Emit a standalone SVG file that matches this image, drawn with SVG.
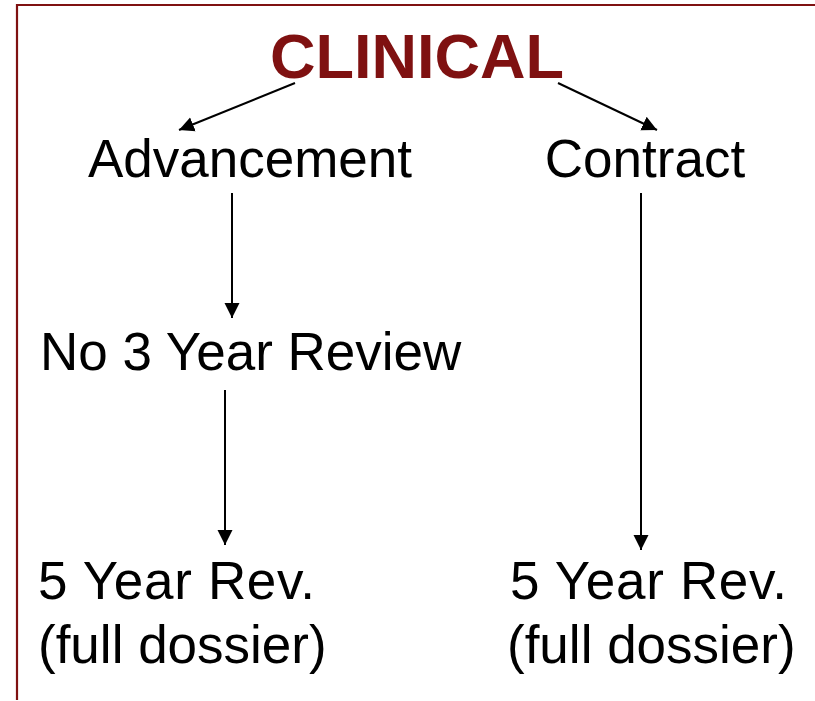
<svg xmlns="http://www.w3.org/2000/svg" width="815" height="701" viewBox="0 0 815 701">
<style>
.t{font-family:"Liberation Sans",Arial,sans-serif;font-size:53px;fill:#000}
.h{font-family:"Liberation Sans",Arial,sans-serif;font-size:63px;font-weight:bold;fill:#7f1111}
.c{stroke:#000;stroke-width:2;fill:none;marker-end:url(#ah)}
.b{stroke:#7f1111;stroke-width:2.2;fill:none}
</style>
<defs>
<marker id="ah" markerUnits="userSpaceOnUse" markerWidth="16" markerHeight="16" viewBox="0 0 16 16" refX="15" refY="8" orient="auto">
<path d="M0,0.5 L15,8 L0,15.5 Z" fill="#000"/>
</marker>
</defs>
<path class="b" d="M17,700 V5 H815"/>
<g id="clinical"><text class="h" x="417" y="78" text-anchor="middle">CLINICAL</text></g>
<g id="advancement"><text class="t" x="250" y="177" text-anchor="middle">Advancement</text></g>
<g id="contract"><text class="t" x="645" y="177" text-anchor="middle">Contract</text></g>
<g id="no3year"><text class="t" x="40" y="370">No 3 Year Review</text></g>
<g id="fiveyear-left"><text class="t" x="38" y="599" textLength="277" lengthAdjust="spacing">5 Year Rev.</text><text class="t" x="38" y="663">(full dossier)</text></g>
<g id="fiveyear-right"><text class="t" x="510" y="599" textLength="277" lengthAdjust="spacing">5 Year Rev.</text><text class="t" x="507" y="663">(full dossier)</text></g>
<g id="connectors">
<line class="c" x1="295" y1="83" x2="179" y2="130"/>
<line class="c" x1="558" y1="83" x2="657" y2="130"/>
<line class="c" x1="232" y1="193" x2="232" y2="318"/>
<line class="c" x1="225" y1="390" x2="225" y2="545"/>
<line class="c" x1="641" y1="193" x2="641" y2="550"/>
</g>
</svg>
